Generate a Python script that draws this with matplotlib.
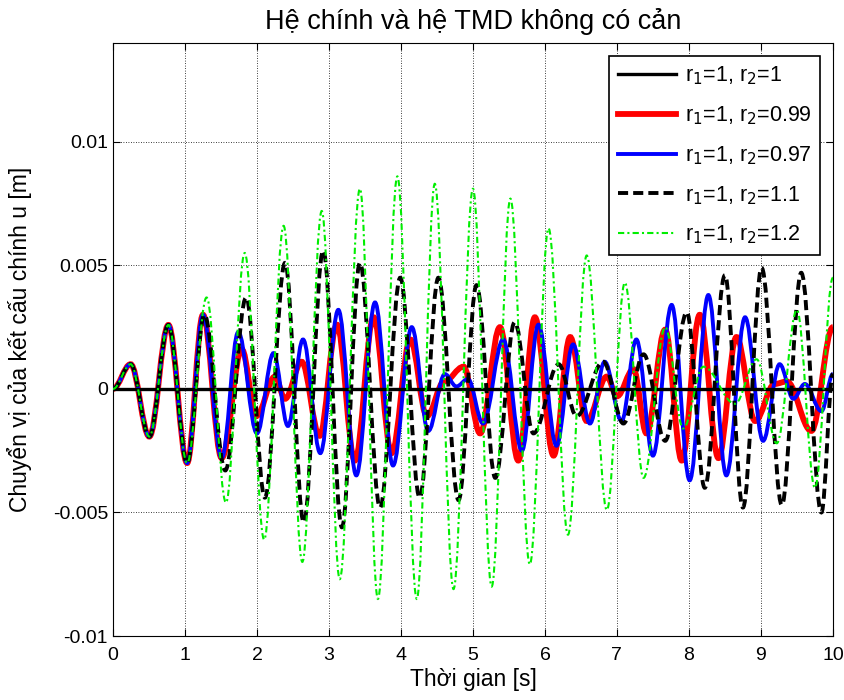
import matplotlib
matplotlib.use("Agg")
import matplotlib.pyplot as plt
from matplotlib.path import Path
from matplotlib.patches import PathPatch
from matplotlib.lines import Line2D

plt.rcParams['font.family'] = ['Liberation Sans', 'DejaVu Sans']

# r2 = 1 : main structure stays at rest
t_r100 = [0, 10]
u_r100 = [0, 0]

# shared start of every case (peaks / troughs)
t_start = [0, 0.245, 0.505, 0.77, 1.03]
u_start = [0, 0.0010, -0.00193, 0.00259, -0.0030]

# r2 = 0.99
t_r099 = t_start + [1.25, 1.51, 1.79, 1.99, 2.25, 2.39, 2.62, 2.87, 3.11, 3.36, 3.62, 3.87,
                    4.13, 4.36, 4.60, 4.87, 5.10, 5.375, 5.63, 5.86, 6.12, 6.35, 6.58, 6.86,
                    7.0, 7.23, 7.41, 7.67, 7.90, 8.15, 8.41, 8.66, 8.92, 9.19, 9.36, 9.70, 10.0]
u_r099 = u_start + [0.0030, -0.0028, 0.0016, -0.0011, 0.0005, -0.0004, 0.0011, -0.0019, 0.0026,
                    -0.0029, 0.0029, -0.0026, 0.0020, -0.0011, 0.0003, 0.0009, -0.0018, 0.0025,
                    -0.0029, 0.0029, -0.0027, 0.0021, -0.0013, 0.0005, -0.0003, 0.0008, -0.0018,
                    0.0024, -0.0029, 0.0030, -0.0028, 0.0021, -0.0013, 0.0002, 0.0003, -0.0017,
                    0.0025]

# r2 = 0.97
t_r097 = t_start + [1.25, 1.51, 1.74, 2.0, 2.23, 2.43, 2.64, 2.88, 3.13, 3.38, 3.64, 3.89,
                    4.15, 4.38, 4.61, 4.77, 4.93, 5.14, 5.42, 5.68, 5.91, 6.16, 6.39, 6.625,
                    6.83, 7.065, 7.27, 7.50, 7.76, 8.01, 8.27, 8.52, 8.78, 9.03, 9.26, 9.45,
                    9.61, 9.84, 10.0]
u_r097 = u_start + [0.0030, -0.0028, 0.0023, -0.0018, 0.00145, -0.0015, 0.0020, -0.0026, 0.0032,
                    -0.0035, 0.0035, -0.0031, 0.0025, -0.0017, 0.0006, 0.0001, 0.0004, -0.0014,
                    0.0020, -0.0025, 0.0026, -0.0023, 0.0018, -0.0014, 0.0011, -0.0013, 0.0020,
                    -0.0027, 0.0034, -0.0037, 0.0038, -0.0035, 0.0029, -0.0021, 0.0010, -0.0004,
                    0.0002, -0.0009, 0.0006]

# r2 = 1.1
t_r110 = t_start + [1.27, 1.56, 1.85, 2.11, 2.39, 2.65, 2.92, 3.18, 3.43, 3.71, 3.99, 4.26,
                    4.52, 4.80, 5.05, 5.31, 5.58, 5.84, 6.19, 6.44, 6.81, 7.09, 7.37, 7.67,
                    7.97, 8.22, 8.50, 8.75, 9.01, 9.29, 9.56, 9.84, 10.0]
u_r110 = u_start + [0.0030, -0.0033, 0.0037, -0.0044, 0.0051, -0.0054, 0.0056, -0.0056, 0.0051,
                    -0.0048, 0.0045, -0.0044, 0.0045, -0.0045, 0.0042, -0.0036, 0.0027, -0.0018,
                    0.0010, -0.0011, 0.0011, -0.0014, 0.0014, -0.0021, 0.0031, -0.0040, 0.0046,
                    -0.0048, 0.0049, -0.0047, 0.0047, -0.0050, 0.0006]

# r2 = 1.2
t_r120 = t_start + [1.30, 1.57, 1.83, 2.10, 2.37, 2.63, 2.90, 3.15, 3.43, 3.68, 3.95, 4.22,
                    4.47, 4.73, 5.0, 5.26, 5.52, 5.79, 6.05, 6.32, 6.58, 6.86, 7.11, 7.37,
                    7.67, 7.92, 8.20, 8.64, 8.94, 9.22, 9.50, 9.75, 10.0]
u_r120 = u_start + [0.0037, -0.0046, 0.0055, -0.0061, 0.0066, -0.0070, 0.0072, -0.0077, 0.0081,
                    -0.0085, 0.0086, -0.0085, 0.0083, -0.0081, 0.0081, -0.0080, 0.0077, -0.0071,
                    0.0065, -0.0059, 0.0054, -0.0049, 0.0043, -0.0036, 0.0025, -0.0016, 0.0009,
                    -0.0006, 0.0012, -0.0022, 0.0032, -0.0040, 0.0045]

labels = ['r$_1$=1, r$_2$=1', 'r$_1$=1, r$_2$=0.99', 'r$_1$=1, r$_2$=0.97',
          'r$_1$=1, r$_2$=1.1', 'r$_1$=1, r$_2$=1.2']


def wave(ax, t, u, **kw):
    # curve through the peaks/troughs, flat (zero slope) at each of them
    verts = [(t[0], u[0])]
    codes = [Path.MOVETO]
    for i in range(len(t) - 1):
        dt = t[i + 1] - t[i]
        verts += [(t[i] + 0.364 * dt, u[i]), (t[i + 1] - 0.364 * dt, u[i + 1]), (t[i + 1], u[i + 1])]
        codes += [Path.CURVE4] * 3
    ax.add_patch(PathPatch(Path(verts, codes), fill=False, transform=ax.transData, **kw))
    return Line2D([], [], color=kw.get('edgecolor'), lw=kw.get('lw'), ls=kw.get('ls', '-'))


fig = plt.figure(figsize=(8.45, 7.0), dpi=100)
ax = fig.add_axes([0.1337, 0.0914, 0.852, 0.8472])

l1, = ax.plot(t_r100, u_r100, color='black', lw=2.4, zorder=3.5)
l2 = wave(ax, t_r099, u_r099, edgecolor='red', lw=4.2, zorder=2)
l3 = wave(ax, t_r097, u_r097, edgecolor='blue', lw=2.8, zorder=3)
l4 = wave(ax, t_r110, u_r110, edgecolor='black', lw=2.8, ls=(0, (2.6, 1.3)), zorder=4)
l5 = wave(ax, t_r120, u_r120, edgecolor='#00ee00', lw=1.5, ls=(0, (3, 1.5, 1, 1.5)), zorder=5)

ax.set_xlim(0, 10)
ax.set_ylim(-0.01, 0.014)
ax.set_xticks(range(0, 11))
ax.set_yticks([-0.01, -0.005, 0, 0.005, 0.01])
ax.set_yticklabels(['-0.01', '-0.005', '0', '0.005', '0.01'])
ax.tick_params(direction='in', labelsize=14, top=True, right=True, length=5)
ax.tick_params(axis='x', pad=8)
ax.grid(True, color='black', ls=(0, (1, 2)), lw=0.6)

ax.set_title('Hệ chính và hệ TMD không có cản', fontsize=19.5, pad=10)
ax.set_xlabel('Thời gian [s]', fontsize=16.5, labelpad=3)
ax.set_ylabel('Chuyển vị của kết cấu chính u [m]', fontsize=16.5, labelpad=15)

leg = ax.legend([l1, l2, l3, l4, l5], labels, loc='upper right', fontsize=15.5,
                fancybox=False, edgecolor='black', framealpha=1, handlelength=2.7,
                handletextpad=0.4, borderaxespad=0.6, labelspacing=0.8)
leg.get_frame().set_linewidth(1.2)

fig.savefig('out.png', dpi=100)
